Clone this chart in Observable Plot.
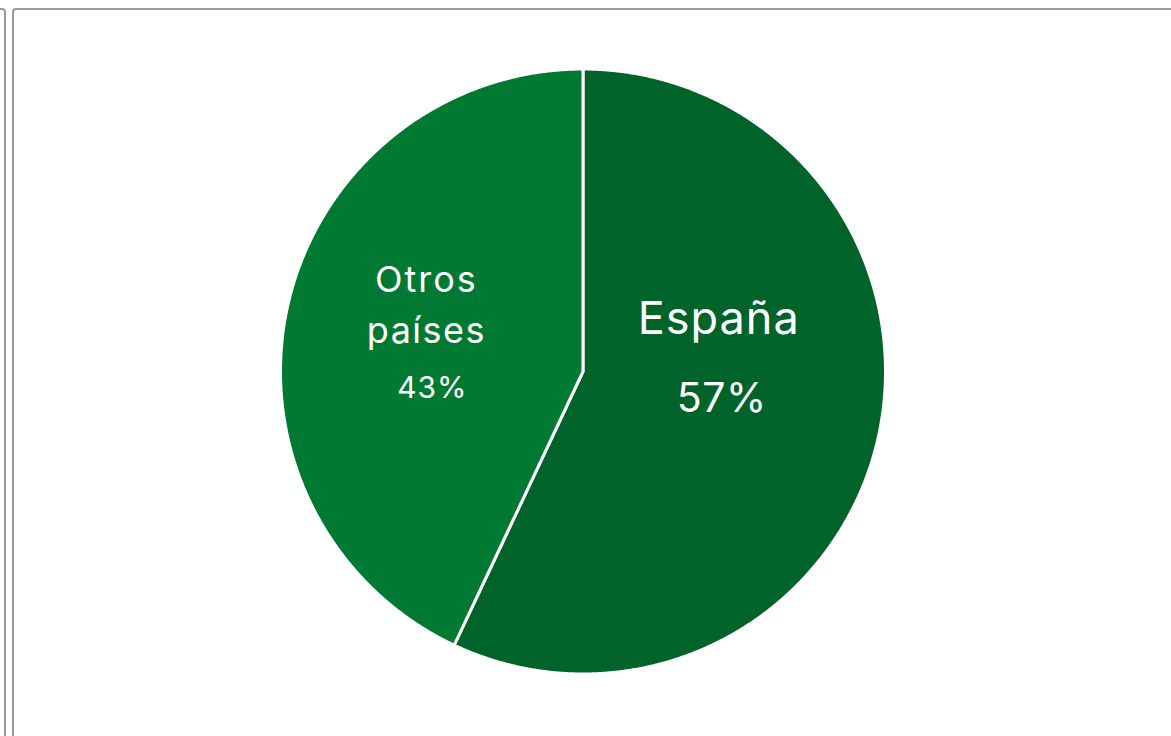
<!DOCTYPE html>
<html>
<head>
<meta charset="utf-8">
<script src="https://cdn.jsdelivr.net/npm/d3@7"></script>
<script src="https://cdn.jsdelivr.net/npm/@observablehq/plot@0.6"></script>
<style>
  html, body { margin: 0; padding: 0; background: #fff; width: 1171px; height: 736px; overflow: hidden; }
  #wrap { position: relative; width: 1171px; height: 736px; }
  .frame { position: absolute; border: 2px solid #9a9a9a; border-radius: 4px; box-sizing: border-box; }
  #chart { position: absolute; left: 0; top: 0; }
  #chart svg { background: transparent; }
</style>
</head>
<body>
<div id="wrap">
  <div class="frame" style="left:-200px; top:8px; width:206px; height:800px;"></div>
  <div class="frame" style="left:12px; top:8px; width:1200px; height:800px;"></div>
  <div id="chart"></div>
</div>
<script>
// Share of the total by origin
const names = ["España", "Otros países"];
const shares = [57, 43];
const labelLines = [["España", "57%"], ["Otros", "países", "43%"]];
const colors = ["#00632a", "#007a33"];

// Build each slice as a closed polygon (clockwise from 12 o'clock) in unit coordinates
const total = d3.sum(shares);
const slices = [];
let start = 0;
names.forEach((name, i) => {
  const a0 = start / total * 2 * Math.PI;
  const a1 = (start + shares[i]) / total * 2 * Math.PI;
  const steps = Math.max(2, Math.ceil((a1 - a0) / (Math.PI / 720)));
  slices.push({name, x: 0, y: 0});
  for (let k = 0; k <= steps; k++) {
    const a = a0 + (a1 - a0) * k / steps;
    slices.push({name, x: Math.sin(a), y: Math.cos(a)});
  }
  slices.push({name, x: 0, y: 0});
  start += shares[i];
});

// Label anchors along each slice's bisector
const anchors = [];
start = 0;
names.forEach((name, i) => {
  const mid = (start + shares[i] / 2) / total * 2 * Math.PI;
  const r = i === 0 ? 0.47 : 0.5;
  anchors.push({name, x: r * Math.sin(mid), y: r * Math.cos(mid)});
  start += shares[i];
});

const font = "Inter, 'Open Sans', sans-serif";
const textMark = (slice, line, opts) => Plot.text([anchors[slice]], {
  x: "x", y: "y", text: () => labelLines[slice][line],
  fill: "white", fontFamily: font, lineAnchor: "middle", textAnchor: "middle", ...opts
});

const chart = Plot.plot({
  width: 1171,
  height: 736,
  marginLeft: 280,
  marginRight: 286,
  marginTop: 68.5,
  marginBottom: 62.5,
  x: {domain: [-1, 1], axis: null},
  y: {domain: [-1, 1], axis: null},
  color: {domain: names, range: colors},
  marks: [
    Plot.line(slices, {
      x: "x", y: "y", z: "name", fill: "name",
      stroke: "white", strokeWidth: 3, strokeLinejoin: "round", curve: "linear"
    }),
    textMark(0, 0, {fontSize: 45, dx: -3, dy: -83}),
    textMark(0, 1, {fontSize: 41, dx: 0, dy: -4}),
    textMark(1, 0, {fontSize: 36, dx: -9, dy: -58}),
    textMark(1, 1, {fontSize: 36, dx: -9, dy: -7}),
    textMark(1, 2, {fontSize: 30, dx: -3, dy: 50})
  ]
});

// Slightly wider tracking on the slice labels
const spacing = ["1px", "0.5px", "2px", "1.5px", "1px"];
d3.select(chart).selectAll("g[aria-label='text']").each(function(_, i) {
  d3.select(this).attr("letter-spacing", spacing[i]);
});

document.getElementById("chart").appendChild(chart);
</script>
</body>
</html>
